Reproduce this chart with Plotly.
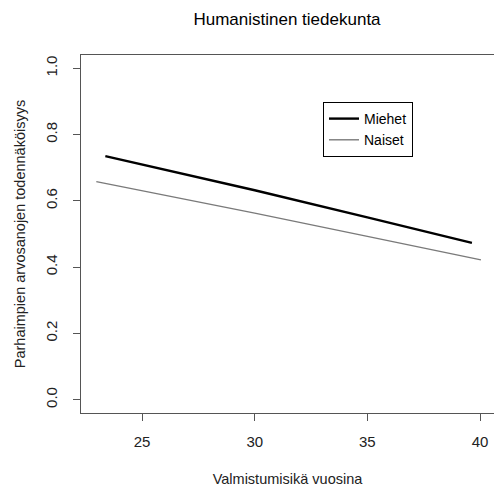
import plotly.graph_objects as go

title = "Humanistinen tiedekunta"
x_label = "Valmistumisikä vuosina"
y_label = "Parhaimpien arvosanojen todennäköisyys"
series_names = ["Miehet", "Naiset"]

miehet_x = [23.37, 30.0, 35.0, 39.64]
miehet_y = [0.735, 0.632, 0.550, 0.473]
naiset_x = [22.97, 30.0, 35.0, 40.04]
naiset_y = [0.658, 0.563, 0.493, 0.422]

x_ticks = [25, 30, 35, 40]
y_ticks = [0.0, 0.2, 0.4, 0.6, 0.8, 1.0]
y_tick_text = ["0.0", "0.2", "0.4", "0.6", "0.8", "1.0"]

font_family = "Liberation Sans, Arial, sans-serif"
axis_col = "#555555"

W, H = 494, 493
L, T, B = 81, 55, 80

fig = go.Figure()
fig.add_trace(go.Scatter(x=miehet_x, y=miehet_y, mode="lines", name=series_names[0],
                         line=dict(color="black", width=2.4)))
fig.add_trace(go.Scatter(x=naiset_x, y=naiset_y, mode="lines", name=series_names[1],
                         line=dict(color="#7a7a7a", width=1.4)))

fig.update_layout(
    width=W, height=H,
    margin=dict(l=L, r=0, t=T, b=B, autoexpand=False),
    paper_bgcolor="white", plot_bgcolor="white",
    font=dict(family=font_family, color="#222222", size=14),
    title=dict(text=title, x=287 / W, xanchor="center", y=1 - 19 / H, yanchor="middle",
               font=dict(size=17, color="black")),
    showlegend=True,
    legend=dict(x=(323 - L) / (W - L), y=(H - B - 102) / (H - T - B), xanchor="left", yanchor="top",
                bordercolor="black", borderwidth=1, bgcolor="white",
                font=dict(size=14, color="black"), tracegroupgap=0,
                itemwidth=30),
)

fig.update_xaxes(
    range=[22.29, 40.62], tickvals=x_ticks, ticktext=[str(t) for t in x_ticks],
    showgrid=False, zeroline=False, showline=True, linecolor=axis_col, linewidth=1.3,
    mirror=True, ticks="outside", ticklen=7, tickcolor=axis_col, tickwidth=1,
    automargin=False, ticklabelstandoff=8,
    tickfont=dict(size=15), title=dict(text=x_label, font=dict(size=14.5), standoff=24),
)
fig.update_yaxes(
    range=[-0.04, 1.04], tickvals=y_ticks, ticktext=y_tick_text, tickangle=-90,
    showgrid=False, zeroline=False, showline=True, linecolor=axis_col, linewidth=1.3,
    mirror=False, ticks="outside", ticklen=7, tickcolor=axis_col, tickwidth=1,
    automargin=False, ticklabelstandoff=10,
    tickfont=dict(size=15), title=dict(text=y_label, font=dict(size=14.5), standoff=13),
)

fig.write_html(
    "out.html",
    config={"displayModeBar": False, "staticPlot": True},
    post_script="document.body.style.margin='0';document.body.style.overflow='hidden';",
)
